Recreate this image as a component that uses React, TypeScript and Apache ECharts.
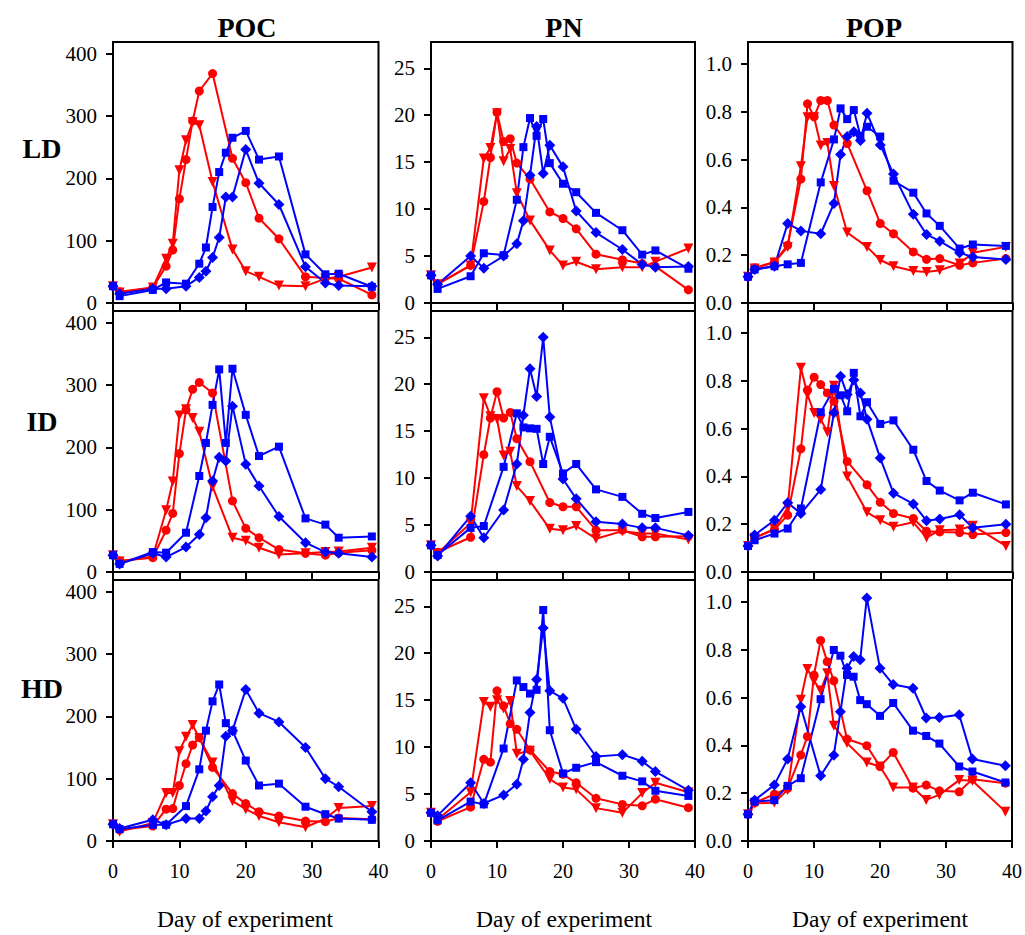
import React, { useEffect, useRef } from "react";
import * as echarts from "echarts";

// Sampling days
const daysRedCN = [0, 1, 6, 8, 9, 10, 11, 12, 13, 15, 18, 20, 22, 25, 29, 32, 34, 39];
const daysBlueCN = [0, 1, 6, 8, 11, 13, 14, 15, 16, 17, 18, 20, 22, 25, 29, 32, 34, 39];
const daysRedP = [0, 1, 4, 6, 8, 9, 10, 11, 12, 13, 15, 18, 20, 22, 25, 27, 29, 32, 34, 39];
const daysBlueP = [0, 1, 4, 6, 8, 11, 13, 14, 15, 16, 17, 18, 20, 22, 25, 27, 29, 32, 34, 39];

// POC
const ldPocCircle = [27, 18, 25, 59, 85, 167, 230, 292, 340, 368, 232, 193, 136, 103, 42, 40, 39, 13];
const ldPocTri = [27, 17, 25, 71, 95, 213, 261, 290, 285, 194, 86, 51, 42, 28, 27, 39, 42, 57];
const ldPocSquare = [27, 11, 21, 33, 31, 63, 89, 154, 210, 241, 265, 276, 230, 235, 78, 46, 47, 26];
const ldPocDiamond = [27, 15, 23, 23, 27, 41, 51, 73, 105, 170, 170, 246, 192, 158, 58, 32, 28, 27];

const idPocCircle = [27, 18, 23, 67, 94, 190, 260, 293, 304, 287, 114, 70, 55, 36, 30, 27, 31, 35];
const idPocTri = [27, 17, 25, 99, 145, 251, 261, 247, 225, 137, 55, 50, 39, 28, 30, 32, 33, 39];
const idPocSquare = [27, 13, 32, 31, 63, 154, 207, 268, 325, 207, 326, 252, 186, 201, 86, 76, 55, 57];
const idPocDiamond = [27, 13, 30, 24, 40, 60, 87, 146, 184, 178, 266, 173, 138, 89, 47, 32, 30, 24];

const hdPocCircle = [27, 18, 24, 51, 52, 89, 124, 154, 166, 118, 76, 60, 47, 40, 32, 31, 37, 35];
const hdPocTri = [27, 15, 29, 77, 77, 144, 167, 186, 165, 126, 64, 51, 40, 30, 22, 36, 53, 56];
const hdPocSquare = [27, 19, 26, 26, 56, 115, 177, 224, 251, 189, 177, 129, 89, 92, 55, 43, 36, 34];
const hdPocDiamond = [27, 20, 34, 26, 36, 36, 48, 71, 89, 168, 177, 243, 205, 191, 150, 100, 87, 47];

// PN
const ldPnCircle = [2.95, 2.0, 4.0, 10.8, 15.5, 20.3, 17.2, 17.5, 14.9, 13.2, 9.7, 9.0, 7.9, 5.2, 4.6, 4.2, 3.9, 1.4];
const ldPnTri = [2.95, 2.0, 4.0, 15.4, 16.5, 20.2, 15.1, 16.4, 11.7, 8.8, 5.6, 4.0, 4.4, 3.6, 3.8, 3.8, 4.4, 5.8];
const ldPnSquare = [2.95, 1.5, 2.85, 5.3, 5.1, 11.0, 16.6, 19.7, 17.8, 19.6, 14.9, 12.7, 11.8, 9.6, 7.75, 5.15, 5.6, 3.65];
const ldPnDiamond = [2.95, 2.0, 5.0, 3.7, 5.0, 6.3, 8.75, 13.6, 18.8, 13.8, 16.8, 14.5, 9.8, 7.5, 5.7, 4.1, 3.8, 3.9];

const idPnCircle = [2.85, 2.1, 3.7, 12.5, 16.4, 19.2, 16.4, 17.0, 14.2, 11.75, 7.4, 6.95, 6.95, 4.45, 4.45, 3.75, 3.75, 3.8];
const idPnTri = [2.85, 2.0, 5.2, 18.5, 16.6, 16.3, 12.4, 12.8, 9.15, 7.55, 4.6, 4.45, 4.9, 3.55, 4.35, 4.1, 4.1, 3.45];
const idPnSquare = [2.85, 1.8, 4.7, 4.9, 11.2, 16.9, 15.4, 15.3, 15.25, 11.5, 14.4, 10.5, 11.5, 8.8, 8.0, 6.2, 5.75, 6.4];
const idPnDiamond = [2.85, 1.7, 5.95, 3.65, 6.6, 11.5, 16.7, 21.65, 18.7, 25.0, 16.5, 9.9, 7.8, 5.35, 5.1, 4.7, 4.7, 3.9];

const hdPnCircle = [3.0, 2.1, 3.6, 8.7, 8.4, 16.0, 14.4, 12.5, 11.9, 9.7, 7.4, 7.1, 6.2, 4.55, 3.9, 3.75, 4.45, 3.55];
const hdPnTri = [3.0, 2.3, 5.2, 14.8, 14.3, 15.0, 14.1, 14.9, 9.3, 9.6, 6.6, 5.7, 5.5, 3.5, 3.0, 5.1, 6.2, 5.2];
const hdPnSquare = [3.0, 2.2, 4.2, 3.9, 9.85, 17.1, 16.4, 15.7, 16.1, 24.6, 11.8, 7.2, 7.8, 8.4, 6.95, 6.35, 5.35, 4.8];
const hdPnDiamond = [3.0, 2.7, 6.2, 4.0, 4.9, 6.05, 8.7, 13.7, 17.2, 22.7, 16.0, 15.2, 11.9, 9.0, 9.2, 8.5, 7.4, 5.4];

// POP
const ldPopCircle = [0.11, 0.148, 0.172, 0.242, 0.519, 0.834, 0.78, 0.848, 0.848, 0.745, 0.668, 0.47, 0.333, 0.29, 0.214, 0.183, 0.186, 0.158, 0.168, 0.186];
const ldPopTri = [0.11, 0.145, 0.17, 0.235, 0.573, 0.778, 0.778, 0.66, 0.67, 0.49, 0.295, 0.235, 0.18, 0.154, 0.134, 0.13, 0.137, 0.165, 0.21, 0.235];
const ldPopSquare = [0.11, 0.14, 0.154, 0.162, 0.168, 0.505, 0.685, 0.815, 0.77, 0.808, 0.7, 0.738, 0.697, 0.512, 0.462, 0.375, 0.323, 0.228, 0.245, 0.239];
const ldPopDiamond = [0.11, 0.14, 0.154, 0.333, 0.302, 0.29, 0.417, 0.622, 0.697, 0.717, 0.68, 0.795, 0.662, 0.54, 0.372, 0.287, 0.259, 0.21, 0.193, 0.182];

const idPopCircle = [0.109, 0.143, 0.178, 0.238, 0.516, 0.762, 0.816, 0.785, 0.75, 0.715, 0.463, 0.365, 0.292, 0.245, 0.224, 0.171, 0.168, 0.165, 0.157, 0.165];
const idPopTri = [0.109, 0.143, 0.18, 0.27, 0.855, 0.743, 0.666, 0.64, 0.585, 0.78, 0.4, 0.25, 0.217, 0.19, 0.208, 0.144, 0.175, 0.178, 0.194, 0.109];
const idPopSquare = [0.109, 0.133, 0.161, 0.182, 0.266, 0.669, 0.767, 0.74, 0.673, 0.834, 0.652, 0.711, 0.62, 0.635, 0.512, 0.381, 0.341, 0.3, 0.332, 0.283];
const idPopDiamond = [0.109, 0.155, 0.217, 0.29, 0.245, 0.345, 0.667, 0.82, 0.743, 0.804, 0.75, 0.64, 0.477, 0.33, 0.285, 0.215, 0.222, 0.24, 0.185, 0.2];

const hdPopCircle = [0.112, 0.16, 0.196, 0.22, 0.36, 0.438, 0.695, 0.84, 0.751, 0.671, 0.427, 0.399, 0.312, 0.371, 0.221, 0.234, 0.21, 0.206, 0.259, 0.242];
const hdPopTri = [0.112, 0.157, 0.161, 0.214, 0.592, 0.72, 0.671, 0.63, 0.702, 0.483, 0.41, 0.329, 0.312, 0.224, 0.224, 0.172, 0.193, 0.255, 0.252, 0.123];
const hdPopSquare = [0.112, 0.165, 0.171, 0.231, 0.263, 0.594, 0.8, 0.776, 0.695, 0.688, 0.59, 0.573, 0.524, 0.578, 0.462, 0.44, 0.408, 0.312, 0.291, 0.245];
const hdPopDiamond = [0.112, 0.171, 0.235, 0.343, 0.562, 0.273, 0.359, 0.541, 0.723, 0.773, 0.759, 1.018, 0.723, 0.655, 0.64, 0.515, 0.517, 0.529, 0.343, 0.315];

// Labels and ticks
const columnTitles = ["POC", "PN", "POP"];
const rowTitles = ["LD", "ID", "HD"];
const xTitle = "Day of experiment";
const yTicksPoc = [0, 100, 200, 300, 400];
const yTicksPn = [0, 5, 10, 15, 20, 25];
const yTicksPop = [0, 0.2, 0.4, 0.6, 0.8, 1.0];

const panelData = [
  [
    [ldPocCircle, ldPocTri, ldPocSquare, ldPocDiamond],
    [ldPnCircle, ldPnTri, ldPnSquare, ldPnDiamond],
    [ldPopCircle, ldPopTri, ldPopSquare, ldPopDiamond],
  ],
  [
    [idPocCircle, idPocTri, idPocSquare, idPocDiamond],
    [idPnCircle, idPnTri, idPnSquare, idPnDiamond],
    [idPopCircle, idPopTri, idPopSquare, idPopDiamond],
  ],
  [
    [hdPocCircle, hdPocTri, hdPocSquare, hdPocDiamond],
    [hdPnCircle, hdPnTri, hdPnSquare, hdPnDiamond],
    [hdPopCircle, hdPopTri, hdPopSquare, hdPopDiamond],
  ],
];

const FONT = "'Liberation Serif', 'Times New Roman', serif";
const RED = "#ff0000";
const BLUE = "#0000ff";

const colLeft = [113, 431, 748];
const colWidth = [265.5, 264, 264.5];
const rowTop = [42, 311, 580];
const rowHeight = 261;
const colMax = [418.6, 27.8, 1.093];
const colTicks = [yTicksPoc, yTicksPn, yTicksPop];

function buildOption() {
  const grid: any[] = [];
  const xAxis: any[] = [];
  const yAxis: any[] = [];
  const series: any[] = [];
  let idx = 0;
  for (let r = 0; r < 3; r++) {
    for (let c = 0; c < 3; c++) {
      grid.push({
        left: colLeft[c],
        top: rowTop[r],
        width: colWidth[c],
        height: rowHeight,
        show: true,
        borderColor: "#000",
        borderWidth: 2,
        backgroundColor: "transparent",
      });
      xAxis.push({
        type: "value",
        gridIndex: idx,
        min: 0,
        max: 40,
        interval: 10,
        axisLine: { show: true, lineStyle: { color: "#000", width: 2 } },
        axisTick: { show: true, length: 7, lineStyle: { color: "#000", width: 2 } },
        axisLabel: {
          show: r === 2,
          fontFamily: FONT,
          fontSize: 20,
          color: "#000",
          margin: 20,
        },
        splitLine: { show: false },
      });
      const ticks = colTicks[c];
      yAxis.push({
        type: "value",
        gridIndex: idx,
        min: 0,
        max: colMax[c],
        axisLine: { show: true, lineStyle: { color: "#000", width: 2 } },
        axisTick: {
          show: true,
          length: 7,
          customValues: ticks,
          lineStyle: { color: "#000", width: 2 },
        },
        axisLabel: {
          customValues: ticks,
          fontFamily: FONT,
          fontSize: 21,
          color: "#000",
          margin: 16,
          formatter: (v: number) => (c === 2 ? v.toFixed(1) : String(Math.round(v))),
        },
        splitLine: { show: false },
      });
      const isP = c === 2;
      const dRed = isP ? daysRedP : daysRedCN;
      const dBlue = isP ? daysBlueP : daysBlueCN;
      const [circ, tri, sq, dia] = panelData[r][c];
      const defs = [
        { vals: circ, days: dRed, color: RED, symbol: "circle", size: 9, rot: 0 },
        { vals: tri, days: dRed, color: RED, symbol: "triangle", size: 10, rot: 180 },
        { vals: sq, days: dBlue, color: BLUE, symbol: "rect", size: 8, rot: 0 },
        { vals: dia, days: dBlue, color: BLUE, symbol: "diamond", size: 11, rot: 0 },
      ];
      for (const d of defs) {
        series.push({
          type: "line",
          xAxisIndex: idx,
          yAxisIndex: idx,
          data: d.days.map((day: number, k: number) => [day, d.vals[k]]),
          symbol: d.symbol,
          symbolSize: d.size,
          symbolRotate: d.rot,
          showSymbol: true,
          lineStyle: { color: d.color, width: 2 },
          itemStyle: { color: d.color },
          clip: false,
          silent: true,
        });
      }
      idx++;
    }
  }

  const graphic: any[] = [];
  const titleX = [247, 564, 874];
  columnTitles.forEach((t, i) => {
    graphic.push({
      type: "text",
      x: titleX[i],
      y: 27,
      style: {
        text: t,
        font: `bold 28px ${FONT}`,
        fill: "#000",
        align: "center",
        verticalAlign: "middle",
      },
    });
  });
  const rowY = [148, 421, 688];
  rowTitles.forEach((t, i) => {
    graphic.push({
      type: "text",
      x: 42,
      y: rowY[i],
      style: {
        text: t,
        font: `bold 28px ${FONT}`,
        fill: "#000",
        align: "center",
        verticalAlign: "middle",
      },
    });
  });
  const xtX = [245, 564, 880];
  xtX.forEach((x) => {
    graphic.push({
      type: "text",
      x,
      y: 919,
      style: {
        text: xTitle,
        font: `23.5px ${FONT}`,
        fill: "#000",
        align: "center",
        verticalAlign: "middle",
      },
    });
  });

  return {
    animation: false,
    backgroundColor: "#fff",
    grid,
    xAxis,
    yAxis,
    series,
    graphic,
  };
}

export default function App() {
  const ref = useRef<HTMLDivElement>(null);
  useEffect(() => {
    if (!ref.current) return;
    const chart = echarts.init(ref.current, null, { renderer: "svg" });
    chart.setOption(buildOption() as any);
    return () => chart.dispose();
  }, []);
  return (
    <div
      ref={ref}
      style={{ position: "absolute", left: 0, top: 0, width: 1025, height: 935 }}
    />
  );
}
